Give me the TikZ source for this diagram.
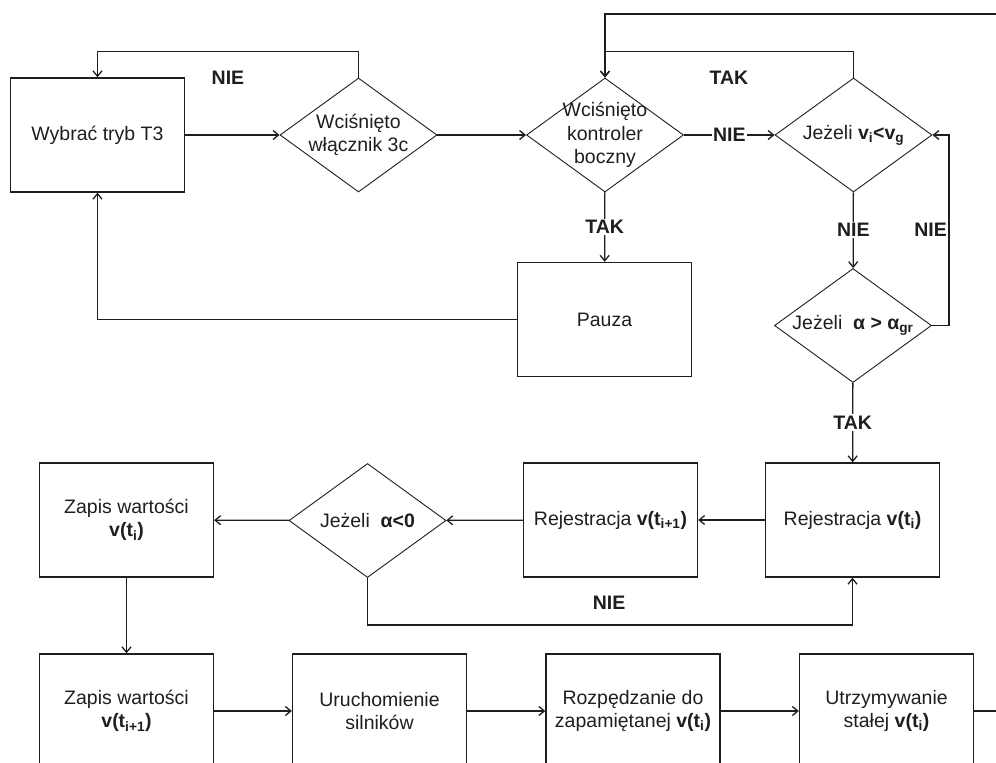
\documentclass[tikz,border=0pt]{standalone}
\usepackage{fontspec}
\setmainfont{Liberation Sans}
\usetikzlibrary{arrows.meta,shapes.geometric}
\definecolor{ink}{RGB}{30,30,30}
\newcommand\fs{\fontsize{19.5}{23.5}\selectfont}
\tikzset{
  every picture/.style={color=ink, line width=1.3pt},
  box/.style={draw=ink, rectangle, line width=1.3pt, inner sep=3pt, minimum width=174, minimum height=114, align=center, font=\fs},
  dec/.style={draw=ink, diamond, line width=0.9pt, inner sep=-60pt, minimum width=157, minimum height=114, align=center, font=\fs},
  flow/.style={-{Straight Barb[length=5.5pt,width=9pt]}, line width=1.3pt},
  lbl/.style={font=\fs\bfseries, inner sep=1.5pt, fill=white},
}

\begin{document}
\begin{tikzpicture}[x=1pt, y=-1pt]
  % tryb T3: przyciski, kontrola predkosci i kata, zapis i odtworzenie v(t)
  \clip (0,0) rectangle (996,763);
  \node[box] (tryb) at (97.5,135) {Wybrać tryb T3};
  \node[dec] (wlacz) at (358.5,135) {Wciśnięto\\włącznik 3c};
  \node[dec] (kontr) at (605,135) {Wciśnięto\\kontroler\\boczny};
  \node[dec] (vgr) at (853.5,135) {Jeżeli \textbf{v\textsubscript{i}<v\textsubscript{g}}};
  \node[box] (pauza) at (604.5,319.5) {Pauza};
  \node[dec] (kat) at (853,325.5) {Jeżeli\ \ \textbf{α > α\textsubscript{gr}}};
  \node[box] (rej) at (852.5,520) {Rejestracja \textbf{v(t\textsubscript{i})}};
  \node[box] (rejnast) at (610.5,520) {Rejestracja \textbf{v(t\textsubscript{i+1})}};
  \node[dec] (ujem) at (367.5,520.5) {Jeżeli\ \ \textbf{α<0}};
  \node[box] (zapis) at (126.5,520) {Zapis wartości\\\textbf{v(t\textsubscript{i})}};
  \node[box] (zapisnast) at (126.5,711) {Zapis wartości\\\textbf{v(t\textsubscript{i+1})}};
  \node[box] (silniki) at (379.5,711) {Uruchomienie\\silników};
  \node[box] (rozped) at (633,711) {Rozpędzanie do\\zapamiętanej \textbf{v(t\textsubscript{i})}};
  \node[box] (stala) at (886.5,711) {Utrzymywanie\\stałej \textbf{v(t\textsubscript{i})}};
  \coordinate (powrot) at (1010,14);

  \draw[flow] (tryb) -- (wlacz);
  \draw[flow] (wlacz.north) -- ++(0,-26) -| (tryb.north);
  \node[lbl] (nie1) at (228,78) {NIE};
  \draw[flow] (wlacz) -- (kontr);
  \draw[flow] (kontr) -- node[lbl] {NIE} (vgr);
  \draw[flow] (kontr) -- node[lbl] {TAK} (pauza);
  \draw[flow] (vgr.north) -- ++(0,-26) -| (kontr.north);
  \node[lbl] (tak1) at (729,78) {TAK};
  \draw[flow] (pauza.west) -| (tryb.south);
  \draw[flow] (vgr) -- node[lbl] {NIE} (kat);
  \draw[flow] (kat.east) -- ++(17,0) |- node[lbl, pos=0.25, left] {NIE} (vgr.east);
  \draw[flow] (kat) -- node[lbl] {TAK} (rej);
  \draw[flow] (rej) -- (rejnast);
  \draw[flow] (rejnast) -- (ujem);
  \draw[flow] (ujem) -- (zapis);
  \draw[flow] (ujem.south) -- ++(0,47) -| (rej.south);
  \node[lbl] (nie2) at (609,603) {NIE};
  \draw[flow] (zapis) -- (zapisnast);
  \draw[flow] (zapisnast) -- (silniki);
  \draw[flow] (silniki) -- (rozped);
  \draw[flow] (rozped) -- (stala);
  \draw[flow] (stala.east) -| (powrot) -| (kontr.north);
\end{tikzpicture}
\end{document}
